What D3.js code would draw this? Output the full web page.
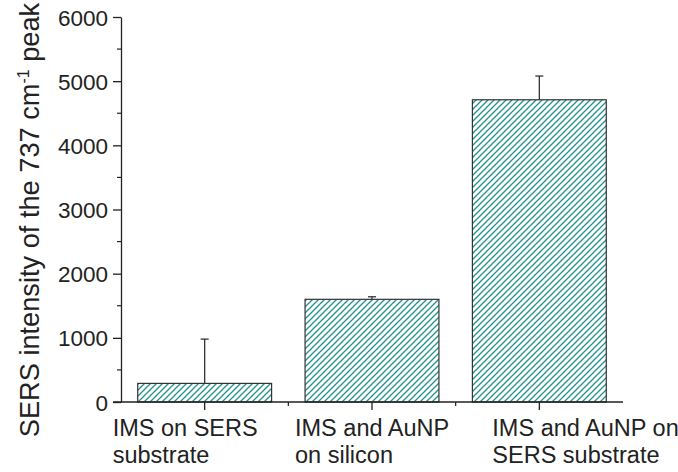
<!DOCTYPE html>
<html>
<head>
<meta charset="utf-8">
<script src="https://cdn.jsdelivr.net/npm/d3@7"></script>
<style>
  body { margin: 0; background: #fff; }
  text { font-family: "Liberation Sans", Arial, sans-serif; fill: #222; }
</style>
</head>
<body>
<svg id="chart" width="678" height="472"></svg>
<script>
// data
let categories = [
  ["IMS on SERS", "substrate"],
  ["IMS and AuNP", "on silicon"],
  ["IMS and AuNP on", "SERS substrate"]
]
let values = [290, 1600, 4710]
let errors = [690, 40, 370]
let yTicks = [0, 1000, 2000, 3000, 4000, 5000, 6000]

// label shift from tick, px (labels are left aligned in the original)
let labelShift = [-92, -77, -47]

let margin = {top: 17, right: 55, bottom: 70, left: 121}
let width = 678, height = 472
let hatchColor = "#1f938f"

let svg = d3.select("#chart")

let defs = svg.append("defs")
defs.append("pattern")
  .attr("id", "hatch")
  .attr("patternUnits", "userSpaceOnUse")
  .attr("width", 6)
  .attr("height", 6)
  .call(p => p.append("rect").attr("width", 6).attr("height", 6).attr("fill", "#fff"))
  .call(p => p.append("path")
    .attr("d", "M-1,1 l2,-2 M0,6 l6,-6 M5,7 l2,-2")
    .attr("stroke", hatchColor)
    .attr("stroke-width", 1.3))

let x = d3.scaleBand()
  .domain(d3.range(categories.length))
  .range([margin.left, width - margin.right])
  .paddingInner(0.2)
  .paddingOuter(0.1)

let xOuter = d3.scaleBand()
  .domain(d3.range(categories.length))
  .range([margin.left, width - margin.right])

let y = d3.scaleLinear()
  .domain([0, 6000])
  .range([height - margin.bottom, margin.top])

// bars
svg.append("g")
  .selectAll("rect")
  .data(values)
  .join("rect")
  .attr("x", (d, i) => x(i))
  .attr("y", d => y(d))
  .attr("width", x.bandwidth())
  .attr("height", d => y(0) - y(d))
  .attr("fill", "url(#hatch)")
  .attr("stroke", "#333")
  .attr("stroke-width", 1.2)

// error bars (upper only)
let eb = svg.append("g").attr("stroke", "#333").attr("stroke-width", 1.3)
values.forEach((v, i) => {
  let cx = xOuter(i) + xOuter.bandwidth() / 2
  eb.append("line")
    .attr("x1", cx).attr("x2", cx)
    .attr("y1", y(v)).attr("y2", y(v + errors[i]))
  eb.append("line")
    .attr("x1", cx - 4).attr("x2", cx + 4)
    .attr("y1", y(v + errors[i])).attr("y2", y(v + errors[i]))
})

// y axis
let yAxis = d3.axisLeft(y).tickValues(yTicks).tickFormat(d3.format("d"))
  .tickSize(8).tickPadding(5).tickSizeOuter(0)
let gy = svg.append("g")
  .attr("transform", `translate(${margin.left},0)`)
  .call(yAxis)
gy.selectAll("text").style("font-size", "22.5px").attr("dy", "0.36em")
gy.selectAll("path, line").attr("stroke", "#222").attr("stroke-width", 1.3)

// minor y ticks
svg.append("g")
  .selectAll("line")
  .data(d3.range(500, 6000, 1000))
  .join("line")
  .attr("x1", margin.left - 4).attr("x2", margin.left)
  .attr("y1", d => y(d)).attr("y2", d => y(d))
  .attr("stroke", "#222").attr("stroke-width", 1.2)

// x axis
let gx = svg.append("g").attr("transform", `translate(0,${y(0)})`)
gx.append("line")
  .attr("x1", margin.left - 8).attr("x2", width - margin.right)
  .attr("stroke", "#222").attr("stroke-width", 1.6)
gx.selectAll(".major")
  .data(d3.range(categories.length))
  .join("line")
  .attr("x1", i => xOuter(i) + xOuter.bandwidth() / 2)
  .attr("x2", i => xOuter(i) + xOuter.bandwidth() / 2)
  .attr("y1", 0).attr("y2", 8)
  .attr("stroke", "#222").attr("stroke-width", 1.3)
gx.selectAll(".minor")
  .data(d3.range(1, categories.length))
  .join("line")
  .attr("x1", i => xOuter(i))
  .attr("x2", i => xOuter(i))
  .attr("y1", 0).attr("y2", 4)
  .attr("stroke", "#222").attr("stroke-width", 1.2)

// category labels
categories.forEach((lines, i) => {
  let cx = xOuter(i) + xOuter.bandwidth() / 2 + labelShift[i]
  let t = gx.append("text")
    .attr("x", cx)
    .attr("y", 34)
    .style("font-size", "23.5px")
  lines.forEach((s, k) => {
    t.append("tspan").attr("x", cx).attr("dy", k == 0 ? 0 : 27).text(s)
  })
})

// y axis title
let title = svg.append("text")
  .attr("transform", `translate(39, 220) rotate(-90)`)
  .attr("text-anchor", "middle")
  .style("font-size", "27.2px")
title.append("tspan").text("SERS intensity of the 737 cm")
title.append("tspan").attr("dy", -10).style("font-size", "16px").text("-1")
title.append("tspan").attr("dy", 10).text(" peak")
</script>
</body>
</html>
